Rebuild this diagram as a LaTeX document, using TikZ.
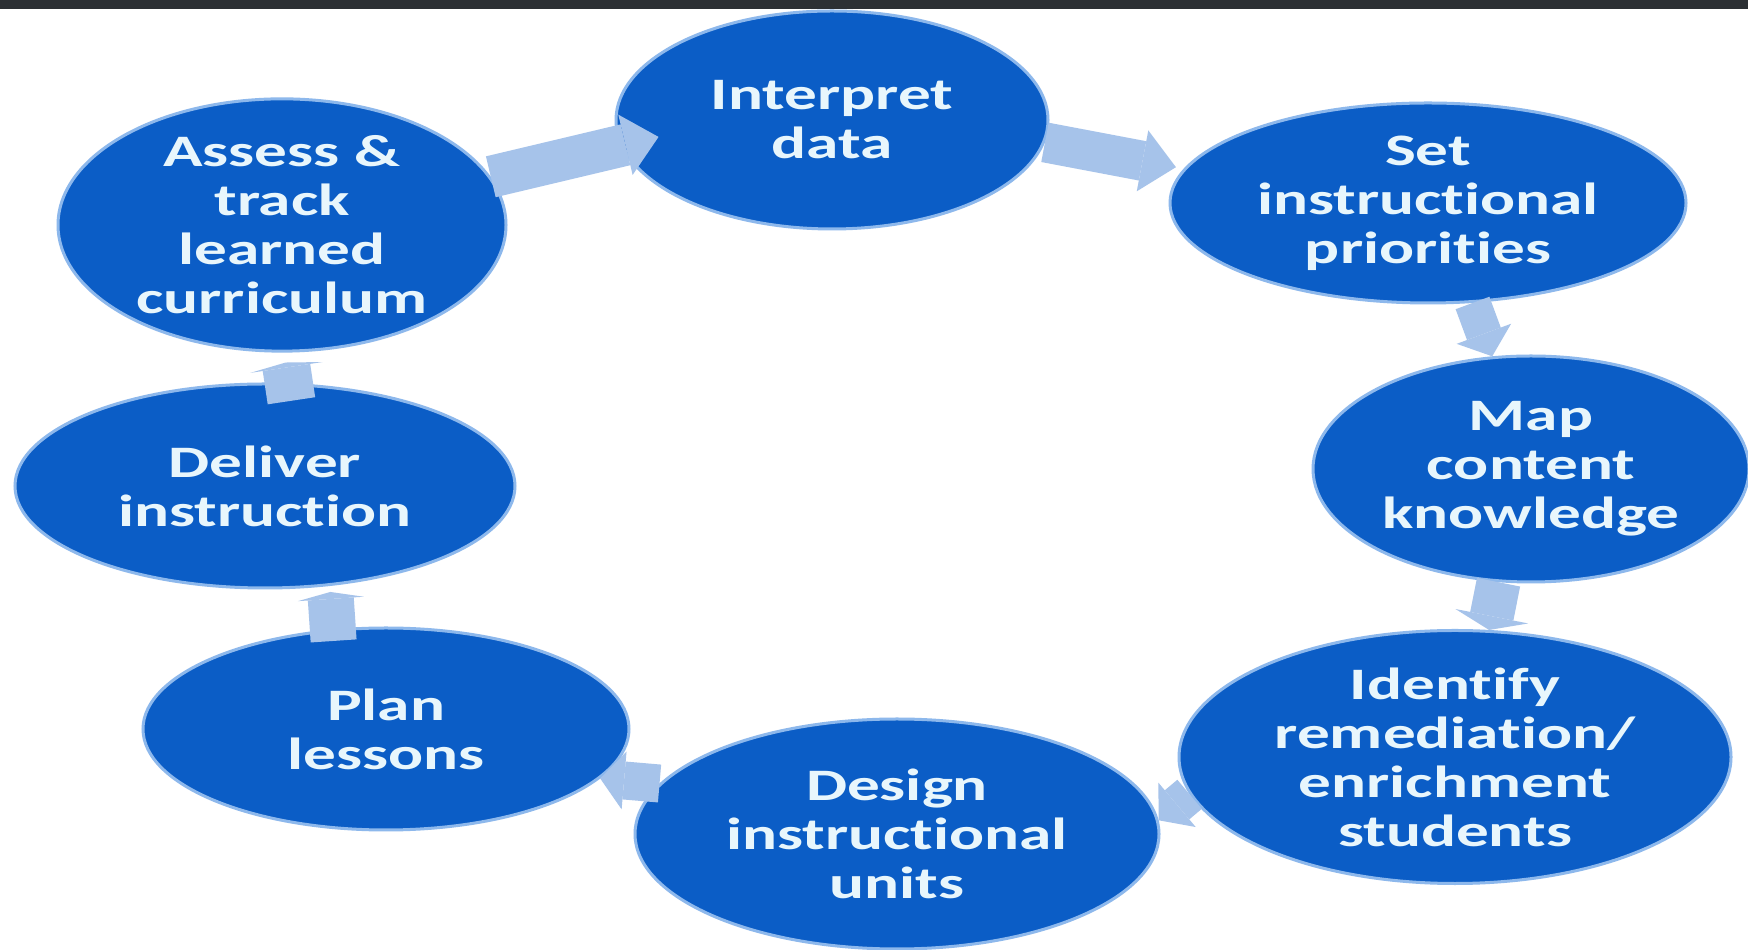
\documentclass[tikz,border=0pt]{standalone}
\usepackage{fontspec}
\setmainfont{Carlito}[FakeStretch=1.45, Ligatures=NoCommon]
\usetikzlibrary{arrows.meta,shapes.geometric}
\definecolor{stageblue}{HTML}{0B5DC6}
\definecolor{stageedge}{HTML}{8DB8EC}
\definecolor{flowblue}{HTML}{A6C3EA}
\definecolor{labelwhite}{HTML}{E8F6FC}
\definecolor{topbar}{HTML}{2C3034}

\begin{document}
\begin{tikzpicture}[x=1pt,y=1pt,
  stage/.style 2 args={ellipse, minimum width=#1, minimum height=#2, inner sep=0pt,
    fill=stageblue, draw=stageedge, line width=3pt, text=labelwhite,
    font=\bfseries\fontsize{45}{49}\selectfont, align=center},
  % block arrow: shaft width, head length, head width
  flow/.style n args={3}{draw=flowblue, line width=#1, line cap=butt,
    -{Triangle[length=#2,width=#3,line width=0pt]}}
]
\useasboundingbox (0,0) rectangle (1748,950);
\fill[white] (0,0) rectangle (1748,950);
\fill[topbar] (0,941) rectangle (1748,950);

% the eight stages of the cycle
\node[stage={432pt}{218pt}] (interp)  at (832,830)  {Interpret\\data};
\node[stage={516pt}{200pt}] (setp)    at (1428,747) {Set\\instructional\\priorities};
\node[stage={436pt}{226pt}] (mapc)    at (1531,481) {Map\\content\\knowledge};
\node[stage={552pt}{232pt}] (ident)   at (1455,193) {Identify\\remediation/\\enrichment\\students};
\node[stage={524pt}{230pt}] (design)  at (897,116)  {Design\\instructional\\units};
\node[stage={486pt}{202pt}] (plan)    at (386,221)  {Plan\\lessons};
\node[stage={500pt}{204pt}] (deliver) at (265,464)  {Deliver\\instruction};
\node[stage={448pt}{250pt}] (assess)  at (282,725)  {Assess \&\\track\\learned\\curriculum};

% block arrows joining the stages
\draw[flow={42pt}{34pt}{62pt}, shorten >=-39pt] (assess.13) -- (interp.187);
\draw[flow={40pt}{34pt}{62pt}, shorten >=8pt] (interp.-6) -- (setp.172);
\draw[flow={36pt}{24pt}{58pt}] (setp.-66) -- (mapc.109);
\draw[flow={44pt}{14pt}{74pt}] (mapc.-106) -- (ident.75);
\draw[flow={38pt}{24pt}{58pt}] (ident.188) -- (design.3);
\draw[flow={38pt}{24pt}{58pt}] (design.168) -- (plan.-13);
\draw[flow={46pt}{7pt}{66pt}, shorten <=-12pt, shorten >=6pt] (plan.118) -- (deliver.-57);
\draw[flow={48pt}{5pt}{73pt}, shorten <=-18pt, shorten >=10pt] (deliver.77) -- (assess.-89);
\end{tikzpicture}
\end{document}
